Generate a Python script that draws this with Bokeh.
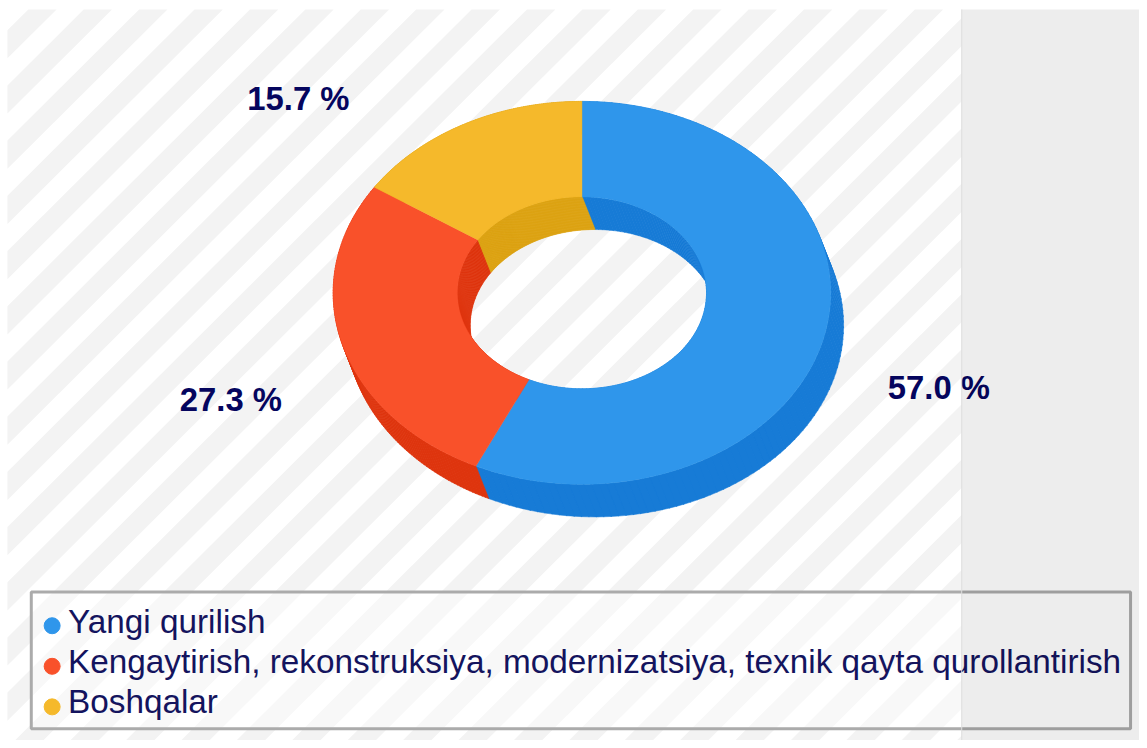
import numpy as np
from bokeh.plotting import figure
from bokeh.models import Range1d
from bokeh.core.properties import value
from bokeh.embed import file_html
from bokeh.resources import INLINE

# ---- data ----
categories = ["Yangi qurilish",
              "Kengaytirish, rekonstruksiya, modernizatsiya, texnik qayta qurollantirish",
              "Boshqalar"]
shares = [57.0, 27.3, 15.7]
share_labels = ["57.0 %", "27.3 %", "15.7 %"]

# ---- styles ----
face_colors = ["#2F96EB", "#F9512A", "#F5B92B"]
wall_colors = ["#177BD6", "#DE350E", "#DCA213"]
NAVY = "#05055E"
LEGEND_TEXT = "#14145E"

# ---- layout (reference frame pixels, mapped onto the figure by its ranges) ----
FRAME_W, FRAME_H = 1147, 748
W, H = 1139, 740
CX, CY = 585.5, 295.5
RX, RY = 250.5, 193.5
IRX, IRY = 125.5, 97.0
DX, DY = 13.0, 33.0
LEFT, TOP = 7, 9
PANEL_X = 968
label_pos = [(945, 391), (232, 403), (300, 99)]
legend_rows = [628, 668, 709]
legend_dots = [632, 673, 714]

p = figure(width=W, height=H, output_backend="svg", toolbar_location=None,
           x_range=Range1d(0, FRAME_W), y_range=Range1d(FRAME_H, 0), min_border=0)
p.axis.visible = False
p.grid.visible = False
p.outline_line_color = None
p.background_fill_color = "white"
p.border_fill_color = "white"


def clip(poly, a, b, c):
    """Keep the part of poly where a*x + b*y <= c."""
    out = []
    for i in range(len(poly)):
        s, e = poly[i], poly[(i + 1) % len(poly)]
        ds, de = a * s[0] + b * s[1] - c, a * e[0] + b * e[1] - c
        if ds <= 0:
            out.append(s)
        if ds * de < 0:
            t = ds / (ds - de)
            out.append((s[0] + t * (e[0] - s[0]), s[1] + t * (e[1] - s[1])))
    return out


# background stripes
sx, sy = [], []
PERIOD, WIDTH, OFFSET = 55.8, 28.5, 37.0
for k in range(-1, 34):
    lo = OFFSET + k * PERIOD
    poly = [(LEFT, TOP), (PANEL_X, TOP), (PANEL_X, FRAME_H), (LEFT, FRAME_H)]
    poly = clip(poly, -1, -1, -lo)
    if poly:
        poly = clip(poly, 1, 1, lo + WIDTH)
    if len(poly) > 2:
        sx.append([q[0] for q in poly])
        sy.append([q[1] for q in poly])
p.patches(sx, sy, fill_color="#F3F3F3", line_color=None)

# doughnut angles from the values
edges = np.cumsum([0.0] + shares) / sum(shares) * 2 * np.pi


def arc(t0, t1, rx, ry, dx=0.0, dy=0.0):
    t = np.linspace(t0, t1, 160)
    return CX + dx + rx * np.sin(t), CY + dy - ry * np.cos(t)


def band(t0, t1, rx, ry):
    x0, y0 = arc(t0, t1, rx, ry)
    x1, y1 = arc(t0, t1, rx, ry, DX, DY)
    return np.r_[x0, x1[::-1]], np.r_[y0, y1[::-1]]


# walls: each one is built of small quads so that the fill is solid
for i in range(len(shares)):
    for rx, ry in ((RX, RY), (IRX, IRY)):
        t = np.linspace(edges[i], edges[i + 1], 121)
        xs, ys = [], []
        for a, b in zip(t[:-1], t[1:]):
            x, y = band(a, b + 0.003, rx, ry)
            xs.append(x[[0, 159, 160, 319]])
            ys.append(y[[0, 159, 160, 319]])
        p.patches(xs, ys, fill_color=wall_colors[i], line_color=wall_colors[i], line_width=0.5)

# top faces
for i in range(len(shares)):
    xo, yo = arc(edges[i], edges[i + 1], RX, RY)
    xi, yi = arc(edges[i], edges[i + 1], IRX, IRY)
    p.patch(np.r_[xo, xi[::-1]], np.r_[yo, yi[::-1]], fill_color=face_colors[i],
            line_color=face_colors[i], line_width=0.5)

# value labels
p.text([q[0] for q in label_pos], [q[1] for q in label_pos], text=share_labels,
       text_font=value("Liberation Sans"), text_font_style="bold", text_font_size="32.8px",
       text_color=NAVY, text_align="center", text_baseline="middle")

# legend
p.quad(left=[31], right=[1138], top=[598], bottom=[736], fill_color="white", fill_alpha=0.4,
       line_color="#ABABAB", line_width=3)
p.scatter([52] * 3, legend_dots, size=16, marker="circle", color=face_colors)
p.text([68] * 3, legend_rows, text=categories, text_font=value("Liberation Sans"),
       text_font_size="33.3px", text_color=LEGEND_TEXT, text_align="left", text_baseline="middle")

# side panel
p.quad(left=[PANEL_X], right=[FRAME_W], top=[TOP], bottom=[FRAME_H], fill_color="black", fill_alpha=0.07,
       line_color=None)
p.segment([PANEL_X], [TOP], [PANEL_X], [FRAME_H], line_color="#DDDDDD", line_width=1)

open("out.html", "w").write(file_html(p, INLINE))
